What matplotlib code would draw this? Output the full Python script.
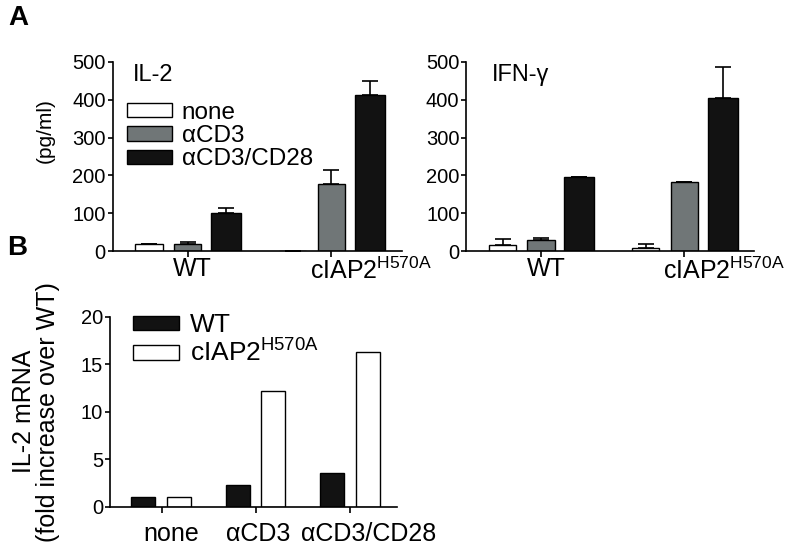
import numpy as np
from matplotlib import pyplot as plt
from matplotlib.transforms import ScaledTranslation

plt.rcParams["font.family"] = ["Liberation Sans", "DejaVu Sans"]
plt.rcParams["mathtext.fontset"] = "custom"
plt.rcParams["mathtext.rm"] = "Liberation Sans"
plt.rcParams["mathtext.it"] = "Liberation Sans"

# panel A data (pg/ml)
genotypes = ["WT", r"cIAP2$^{\mathrm{H570A}}$"]
stimuli = ["none", "αCD3", "αCD3/CD28"]
il2_mean = [[20, 20, 100], [1, 176, 411]]
il2_err = [[0, 4, 15], [0, 38, 37]]
ifng_mean = [[16, 29, 197], [7, 183, 404]]
ifng_err = [[16, 6, 0], [13, 0, 82]]

# panel B data (fold increase over WT)
mrna_groups = ["none", "αCD3", "αCD3/CD28"]
mrna_wt = [1.05, 2.3, 3.6]
mrna_mut = [1.05, 12.2, 16.3]

stim_colors = ["white", "#707677", "#121212"]

fig = plt.figure(figsize=(8, 5.47), dpi=100)


def style(ax, xpad, shifts):
    for side in ["top", "right"]:
        ax.spines[side].set_visible(False)
    for side in ["left", "bottom"]:
        ax.spines[side].set_linewidth(1.2)
    ax.tick_params(axis="y", labelsize=14.5, length=3.5, width=1.2, pad=1.5)
    ax.tick_params(axis="x", labelsize=18, length=4, width=1.2, pad=xpad)
    # category labels sit a little right of their ticks in the original
    for lab, dx in zip(ax.get_xticklabels(), shifts):
        lab.set_transform(lab.get_transform() + ScaledTranslation(dx / 100, 0, fig.dpi_scale_trans))


def panel_a(ax, means, errs, title, title_x):
    x = np.arange(len(genotypes))
    step = 0.268
    widths = [0.19, 0.19, 0.21]
    for i, stim in enumerate(stimuli):
        vals = [m[i] for m in means]
        err = [e[i] for e in errs]
        pos = x + (i - 1) * step
        ax.bar(pos, vals, width=widths[i], color=stim_colors[i], edgecolor="black",
               linewidth=1.0, label=stim, zorder=2)
        up = np.array(err)
        ax.errorbar(pos, vals, yerr=[np.zeros_like(up), up], fmt="none", ecolor="black",
                    elinewidth=1.2, capsize=6, capthick=1.2, zorder=1)
    ax.set_ylim(0, 500)
    ax.set_yticks([0, 100, 200, 300, 400, 500])
    ax.set_xlim(-0.52, 1.49)
    ax.set_xticks(x)
    ax.set_xticklabels(genotypes)
    ax.text(title_x, 0.93, title, transform=ax.transAxes, fontsize=17, va="center", ha="left")
    style(ax, 0.5, [5, 40])


ax1 = fig.add_axes([0.141, 0.541, 0.361, 0.346])
panel_a(ax1, il2_mean, il2_err, "IL-2", 0.069)
ax1.set_ylabel("(pg/ml)", fontsize=15)
ax1.yaxis.set_label_coords(-0.2, 0.635)
ax1.legend(loc="upper left", bbox_to_anchor=(0.048, 0.79), frameon=False, fontsize=17.5,
           handlelength=1.85, handleheight=0.55, handletextpad=0.42, labelspacing=0.06,
           borderpad=0, borderaxespad=0)

ax2 = fig.add_axes([0.583, 0.541, 0.360, 0.346])
panel_a(ax2, ifng_mean, ifng_err, "IFN-γ", 0.087)

ax3 = fig.add_axes([0.1375, 0.0737, 0.359, 0.347])
xb = np.arange(len(mrna_groups))
ax3.bar(xb - 0.195, mrna_wt, width=0.255, color="#121212", edgecolor="black", linewidth=1.0,
        label="WT")
ax3.bar(xb + 0.185, mrna_mut, width=0.255, color="white", edgecolor="black", linewidth=1.0,
        label=r"cIAP2$^{\mathrm{H570A}}$")
ax3.set_ylim(0, 20)
ax3.set_yticks([0, 5, 10, 15, 20])
ax3.set_xlim(-0.55, 2.5)
ax3.set_xticks(xb)
ax3.set_xticklabels(mrna_groups)
ax3.set_ylabel("IL-2 mRNA\n(fold increase over WT)", fontsize=18, linespacing=1.0)
ax3.yaxis.set_label_coords(-0.175, 0.5)
style(ax3, 7, [9, 2, 19])
ax3.legend(loc="upper left", bbox_to_anchor=(0.08, 1.02), frameon=False, fontsize=19,
           handlelength=1.75, handleheight=0.45, handletextpad=0.42, labelspacing=0.1,
           borderpad=0, borderaxespad=0)

fig.text(0.011, 0.967, "A", fontsize=20, fontweight="bold", va="center", ha="left")
fig.text(0.009, 0.547, "B", fontsize=20, fontweight="bold", va="center", ha="left")

fig.savefig("out.png", dpi=100)
